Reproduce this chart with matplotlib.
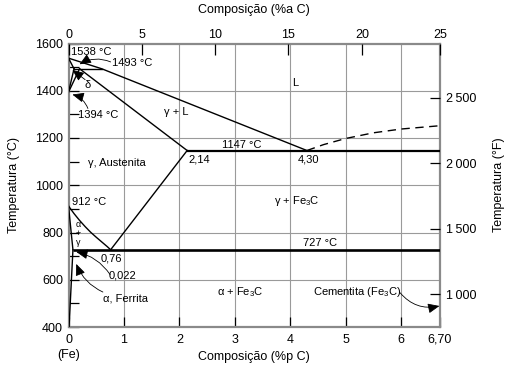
import matplotlib
matplotlib.use("Agg")
import matplotlib.pyplot as plt

plt.rcParams['font.family'] = ['Liberation Sans', 'DejaVu Sans']
plt.rcParams['mathtext.fontset'] = 'custom'
plt.rcParams['mathtext.rm'] = 'Liberation Sans'
plt.rcParams['mathtext.it'] = 'Liberation Sans'
plt.rcParams['mathtext.default'] = 'regular'

# ---------------- data ----------------
liquidus_x = [0, 0.6, 4.30]
liquidus_T = [1538, 1493, 1147]
delta_solidus_x = [0, 0.1]
delta_solidus_T = [1538, 1493]
peritectic_x = [0.1, 0.6]
peritectic_T = [1493, 1493]
delta_solvus_x = [0.1, 0]
delta_solvus_T = [1493, 1394]
gamma_delta_x = [0.2, 0]
gamma_delta_T = [1493, 1394]
gamma_solidus_x = [0.2, 2.14]
gamma_solidus_T = [1493, 1147]
acm_x = [2.14, 0.76]
acm_T = [1147, 727]
eutectic_x = [2.14, 6.70]
eutectic_T = [1147, 1147]
a3_x = [0, 0.1, 0.2, 0.3, 0.4, 0.5, 0.6, 0.7, 0.76]
a3_T = [912, 880, 851, 825, 801, 780, 760, 740, 727]
alpha_gamma_x = [0, 0.08]
alpha_gamma_T = [912, 727]
alpha_solvus_x = [0.08, 0.01]
alpha_solvus_T = [727, 400]
eutectoid_x = [0.08, 6.70]
eutectoid_T = [727, 727]
dashed_x = [4.30, 4.6, 5.0, 5.5, 6.0, 6.70]
dashed_T = [1147, 1172, 1198, 1222, 1238, 1252]

bottom_ticks = [0, 1, 2, 3, 4, 5, 6, 6.70]
bottom_labels = ['0', '1', '2', '3', '4', '5', '6', '6,70']
left_ticks = [400, 600, 800, 1000, 1200, 1400, 1600]
left_minor = [500, 700, 900, 1100, 1300, 1500]
right_ticks_F = [1000, 1500, 2000, 2500]
right_labels = ['1\u2009000', '1\u2009500', '2\u2009000', '2\u2009500']
top_tick_pos = [0, 1.32, 2.64, 3.96, 5.30, 6.70]
top_labels = ['0', '5', '10', '15', '20', '25']

xmin, xmax = 0, 6.70
Tmin, Tmax = 400, 1600

# ---------------- figure ----------------
fig = plt.figure(figsize=(5.09, 3.75), dpi=100)
ax = fig.add_axes([68.5/509, 48/375, (440-68.5)/509, (327-43.5)/375])
ax.set_xlim(xmin, xmax)
ax.set_ylim(Tmin, Tmax)

spine_col = '#8a8a8a'
grid_col = '#9a9a9a'
for s in ax.spines.values():
    s.set_color(spine_col)
    s.set_linewidth(1.6)

# grid
for gx in [1, 2, 3, 4, 5, 6]:
    ax.axvline(gx, color=grid_col, lw=0.8, zorder=1)
for gy in [600, 800, 1000, 1200, 1400]:
    ax.axhline(gy, color=grid_col, lw=0.8, zorder=1)

thin = 1.0
k = 'black'
ax.plot(liquidus_x, liquidus_T, color=k, lw=thin, zorder=3)
ax.plot(delta_solidus_x, delta_solidus_T, color=k, lw=thin, zorder=3)
ax.plot(peritectic_x, peritectic_T, color=k, lw=thin, zorder=3)
ax.plot(delta_solvus_x, delta_solvus_T, color=k, lw=thin, zorder=3)
ax.plot(gamma_delta_x, gamma_delta_T, color=k, lw=thin, zorder=3)
ax.plot(gamma_solidus_x, gamma_solidus_T, color=k, lw=thin, zorder=3)
ax.plot(acm_x, acm_T, color=k, lw=thin, zorder=3)
ax.plot(eutectic_x, eutectic_T, color=k, lw=1.6, zorder=3, solid_capstyle='butt')
ax.plot(a3_x, a3_T, color=k, lw=thin, zorder=3)
ax.plot(alpha_gamma_x, alpha_gamma_T, color=k, lw=thin, zorder=3)
ax.plot(alpha_solvus_x, alpha_solvus_T, color=k, lw=thin, zorder=3)
ax.plot(eutectoid_x, eutectoid_T, color=k, lw=1.9, zorder=3, solid_capstyle='butt')
ax.plot(dashed_x, dashed_T, color=k, lw=thin, ls=(0, (6, 4)), zorder=3)

# ticks
ax.set_xticks(bottom_ticks)
ax.set_xticklabels(bottom_labels)
ax.set_yticks(left_ticks)
ax.set_yticklabels([str(v) for v in left_ticks])
ax.set_yticks(left_minor, minor=True)
ax.tick_params(axis='both', which='both', direction='in', length=7.5, width=0.9,
               color='black', labelsize=9, pad=4)
ax.tick_params(axis='x', which='major', pad=5)
ax.tick_params(axis='y', which='minor', labelleft=False)

# right axis (F)
ax2 = ax.twinx()
ax2.set_ylim(Tmin * 9 / 5 + 32, Tmax * 9 / 5 + 32)
ax2.set_yticks(right_ticks_F)
ax2.set_yticklabels(right_labels)
ax2.tick_params(axis='y', direction='in', length=7.5, width=0.9, labelsize=9, pad=4)
for s in ax2.spines.values():
    s.set_visible(False)

# top axis (at %)
ax3 = ax.twiny()
ax3.set_xlim(xmin, xmax)
ax3.set_xticks(top_tick_pos)
ax3.set_xticklabels(top_labels)
ax3.tick_params(axis='x', direction='in', length=8, width=0.9, labelsize=9, pad=2)
for s in ax3.spines.values():
    s.set_visible(False)

# axis labels
fig.text(254/509, 1 - 10/375, 'Composição (%a C)', ha='center', va='center', fontsize=9)
fig.text(254/509, 1 - 357/375, 'Composição (%p C)', ha='center', va='center', fontsize=9)
fig.text(14/509, 1 - 185/375, 'Temperatura (°C)', ha='center', va='center',
         rotation=90, fontsize=9)
fig.text(499/509, 1 - 185/375, 'Temperatura (°F)', ha='center', va='center',
         rotation=90, fontsize=9)
fig.text(68.5/509, 1 - 355/375, '(Fe)', ha='center', va='center', fontsize=9)

fs = 8
# labels in plot
ax.text(0.045, 1564, '1538 °C', fontsize=fs, ha='left', va='center')
ax.text(0.78, 1517, '1493 °C', fontsize=fs, ha='left', va='center')
ax.text(0.35, 1424, 'δ', fontsize=fs, ha='center', va='center')
ax.text(0.17, 1297, '1394 °C', fontsize=fs, ha='left', va='center')
ax.text(4.09, 1433, 'L', fontsize=fs, ha='center', va='center')
ax.text(1.94, 1310, 'γ + L', fontsize=fs, ha='center', va='center')
ax.text(0.875, 1094, 'γ, Austenita', fontsize=fs, ha='center', va='center')
ax.text(2.16, 1111, '2,14', fontsize=fs, ha='left', va='center')
ax.text(3.13, 1170, '1147 °C', fontsize=fs, ha='center', va='center')
ax.text(4.32, 1111, '4,30', fontsize=fs, ha='center', va='center')
ax.text(4.12, 933, 'γ + Fe$_3$C', fontsize=fs, ha='center', va='center')
ax.text(4.54, 755, '727 °C', fontsize=fs, ha='center', va='center')
ax.text(0.06, 929, '912 °C', fontsize=fs, ha='left', va='center')
ax.text(0.17, 833, 'α', fontsize=6.5, ha='center', va='center')
ax.text(0.17, 797, '+', fontsize=6.5, ha='center', va='center')
ax.text(0.17, 759, 'γ', fontsize=6.5, ha='center', va='center')
ax.text(0.77, 692, '0,76', fontsize=fs, ha='center', va='center')
ax.text(0.98, 616, '0,022', fontsize=fs, ha='center', va='center')
ax.text(1.02, 522, 'α, Ferrita', fontsize=fs, ha='center', va='center')
ax.text(3.1, 548, 'α + Fe$_3$C', fontsize=fs, ha='center', va='center')
ax.text(5.2, 548, 'Cementita (Fe$_3$C)', fontsize=fs, ha='center', va='center')

ap = dict(arrowstyle='-|>,head_length=0.7,head_width=0.3', color='black', lw=0.6,
          shrinkA=0, shrinkB=0)
ax.annotate('', xy=(0.2, 1512), xytext=(0.76, 1522),
            arrowprops=dict(ap, connectionstyle='arc3,rad=0.25'))
ax.annotate('', xy=(0.07, 1488), xytext=(0.3, 1447),
            arrowprops=dict(ap, connectionstyle='arc3,rad=0.0'))
ax.annotate('', xy=(0.07, 1384), xytext=(0.35, 1325),
            arrowprops=dict(ap, connectionstyle='arc3,rad=0.25'))
ax.annotate('', xy=(0.14, 718), xytext=(0.75, 622),
            arrowprops=dict(ap, connectionstyle='arc3,rad=0.2'))
ax.annotate('', xy=(0.14, 667), xytext=(0.62, 548),
            arrowprops=dict(ap, connectionstyle='arc3,rad=-0.2'))
ax.annotate('', xy=(6.69, 489), xytext=(5.98, 545),
            arrowprops=dict(ap, connectionstyle='arc3,rad=0.3'))

fig.savefig('out.png', dpi=100)
